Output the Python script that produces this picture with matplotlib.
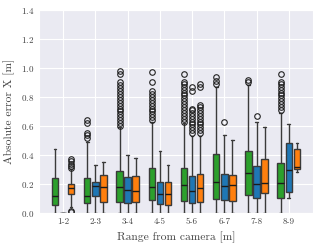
import matplotlib
matplotlib.use("Agg")
import matplotlib.pyplot as plt
import seaborn as sns

sns.set_style("darkgrid")
plt.rcParams['font.family'] = 'serif'
plt.rcParams['font.serif'] = ['cmr10']
plt.rcParams['axes.formatter.use_mathtext'] = True

ranges = ['1-2', '2-3', '3-4', '4-5', '5-6', '6-7', '7-8', '8-9']

# green series: median, q1, q3, whisker low/high, outliers
green_med = [0.117, 0.117, 0.177, 0.18, 0.19, 0.216, 0.274, 0.205]
green_q1 = [0.057, 0.066, 0.076, 0.089, 0.083, 0.094, 0.124, 0.106]
green_q3 = [0.24, 0.24, 0.29, 0.31, 0.31, 0.405, 0.43, 0.347]
green_lo = [0.0, 0.0, 0.0, 0.0, 0.0, 0.0, 0.0, 0.0]
green_hi = [0.44, 0.49, 0.59, 0.63, 0.62, 0.87, 0.88, 0.69]
green_out = [
    [],
    [0.52, 0.535, 0.55, 0.62, 0.64],
    [0.60, 0.62, 0.64, 0.66, 0.68, 0.70, 0.72, 0.74, 0.76, 0.78, 0.80,
     0.82, 0.84, 0.86, 0.88, 0.905, 0.96, 0.98],
    [0.64, 0.66, 0.68, 0.70, 0.72, 0.74, 0.76, 0.78, 0.80, 0.82, 0.84,
     0.90, 0.975],
    [0.63, 0.65, 0.67, 0.69, 0.71, 0.73, 0.75, 0.77, 0.79, 0.81, 0.83,
     0.85, 0.87, 0.89, 0.905, 0.96],
    [0.89, 0.91, 0.94],
    [0.905, 0.92],
    [0.71, 0.73, 0.75, 0.77, 0.79, 0.81, 0.83, 0.85, 0.87, 0.89, 0.90, 0.96],
]

blue_med = [0.0, 0.184, 0.159, 0.13, 0.152, 0.186, 0.2, 0.297]
blue_q1 = [0.0, 0.12, 0.066, 0.06, 0.067, 0.09, 0.1, 0.147]
blue_q3 = [0.0, 0.21, 0.248, 0.21, 0.257, 0.27, 0.324, 0.48]
blue_lo = [0.0, 0.0, 0.0, 0.0, 0.0, 0.0, 0.0, 0.106]
blue_hi = [0.0, 0.33, 0.40, 0.43, 0.53, 0.54, 0.63, 0.61]
blue_out = [
    [], [], [], [],
    [0.55, 0.57, 0.59, 0.61, 0.63, 0.65, 0.67, 0.69, 0.71, 0.72, 0.84, 0.87],
    [0.63],
    [0.67],
    [],
]

orange_med = [0.17, 0.177, 0.154, 0.13, 0.17, 0.19, 0.205, 0.319]
orange_q1 = [0.13, 0.074, 0.076, 0.055, 0.074, 0.083, 0.14, 0.303]
orange_q3 = [0.20, 0.26, 0.255, 0.21, 0.27, 0.26, 0.372, 0.44]
orange_lo = [0.04, 0.0, 0.0, 0.0, 0.0, 0.0, 0.0, 0.285]
orange_hi = [0.30, 0.354, 0.377, 0.33, 0.53, 0.50, 0.59, 0.48]
orange_out = [
    [0.005, 0.015, 0.31, 0.325, 0.34, 0.355, 0.37],
    [], [], [],
    [0.55, 0.57, 0.59, 0.61, 0.63, 0.65, 0.67, 0.69, 0.71, 0.73, 0.745,
     0.87, 0.89],
    [], [], [],
]

series = [
    ('#2ca02c', -0.25, green_med, green_q1, green_q3, green_lo, green_hi, green_out),
    ('#1f77b4', 0.0, blue_med, blue_q1, blue_q3, blue_lo, blue_hi, blue_out),
    ('#ff7f0e', 0.25, orange_med, orange_q1, orange_q3, orange_lo, orange_hi, orange_out),
]

fig = plt.figure(figsize=(3.19, 2.49), dpi=100)
ax = fig.add_axes([0.122, 0.145, 0.859, 0.815])

edge = '#3a3a3a'
for color, off, med, q1, q3, lo, hi, out in series:
    stats = []
    for i in range(len(ranges)):
        stats.append({'med': med[i], 'q1': q1[i], 'q3': q3[i],
                      'whislo': lo[i], 'whishi': hi[i], 'fliers': out[i]})
    pos = [i + off for i in range(len(ranges))]
    ax.bxp(stats, positions=pos, widths=0.2, capwidths=0.08, patch_artist=True,
           manage_ticks=False,
           boxprops=dict(facecolor=color, edgecolor=edge, linewidth=1.0),
           medianprops=dict(color='#1a1a1a', linewidth=1.0),
           whiskerprops=dict(color=edge, linewidth=1.0),
           capprops=dict(color=edge, linewidth=1.0),
           flierprops=dict(marker='o', markerfacecolor='none',
                           markeredgecolor='#222222', markersize=4,
                           markeredgewidth=0.8))

ax.set_xticks(range(len(ranges)))
ax.set_xticklabels(ranges)
ax.set_xlim(-0.75, 7.75)
ax.set_ylim(0, 1.4)
ax.set_yticks([0.0, 0.2, 0.4, 0.6, 0.8, 1.0, 1.2, 1.4])
ax.tick_params(labelsize=6.5, colors='#444444', length=0)
ax.set_xlabel('Range from camera [m]', fontsize=8.3, color='#444444')
ax.set_ylabel('Absolute error X [m]', fontsize=8.3, color='#444444')

plt.savefig('out.png', dpi=100)
